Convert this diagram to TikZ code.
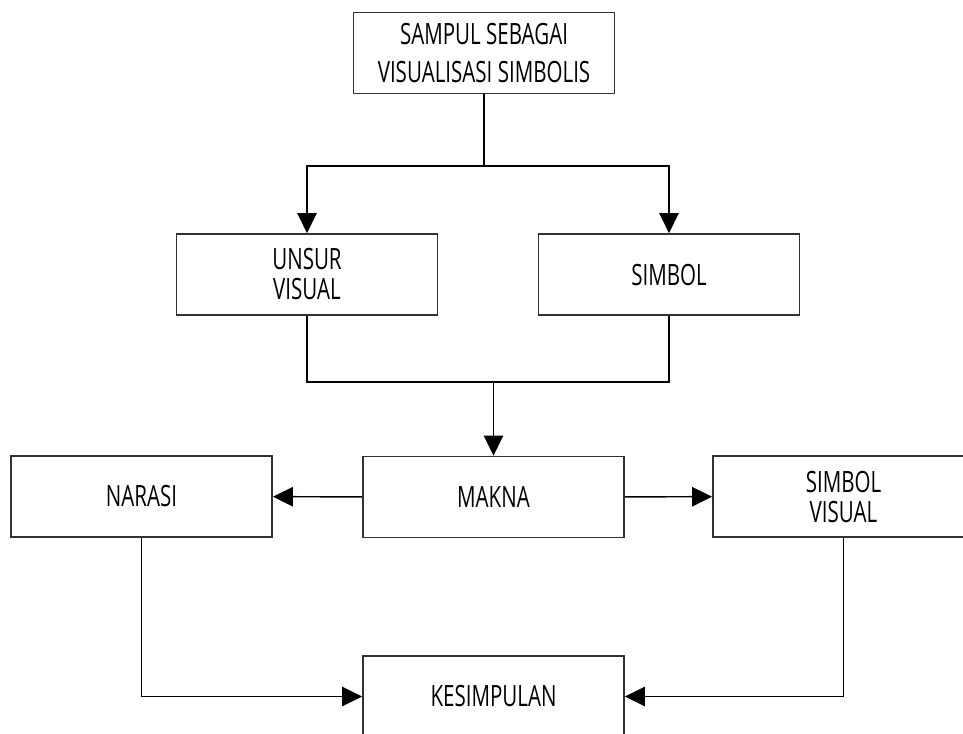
\documentclass[tikz,border=0pt]{standalone}
\usepackage{fontspec}
\setmainfont{Open Sans}[FakeStretch=0.7]
\usetikzlibrary{arrows.meta,positioning}
\definecolor{boxline}{RGB}{50,50,50}

\begin{document}
\begin{tikzpicture}[x=0.75pt,y=-0.75pt,
    box/.style={draw=boxline,line width=1.3pt,minimum width=195.75pt,
                minimum height=60.75pt,inner sep=0pt,align=center,
                font=\fontsize{22}{22.5}\selectfont},
    arr/.style={-{Triangle[length=15pt,width=14.5pt]},line width=1.1pt},
  ]
    \useasboundingbox (0,0) rectangle (963,733);
    \clip (0,0) rectangle (963,733);
    \node[box,font=\fontsize{22}{28.5}\selectfont](sampul) at (484,53){SAMPUL SEBAGAI\\VISUALISASI SIMBOLIS};
    \node[box](unsur) at (307,274.5){UNSUR\\VISUAL};
    \node[box](simbol) at (669,274.5){SIMBOL};
    \node[box](makna) at (493.5,497){MAKNA};
    \node[box](narasi) at (141.5,496.5){NARASI};
    \node[box](simvis) at (843.5,496.5){SIMBOL\\VISUAL};
    \node[box](kesimpulan) at (493.5,696.5){KESIMPULAN};
    % cabang atas
    \coordinate (split) at (484,166);
    \draw[line width=1.1pt](sampul.south)--(split);
    \draw[arr](split)-|(unsur.north);
    \draw[arr](split)-|(simbol.north);
    % gabung ke makna
    \coordinate (join) at (493.5,382);
    \draw[line width=1.1pt](unsur.south)|-(join);
    \draw[line width=1.1pt](simbol.south)|-(join);
    \draw[arr](join)--(makna.north);
    \draw[arr](makna)--(narasi);
    \draw[arr](makna)--(simvis);
    \draw[arr](narasi.south)|-(kesimpulan.west);
    \draw[arr](simvis.south)|-(kesimpulan.east);
  \end{tikzpicture}
\end{document}
